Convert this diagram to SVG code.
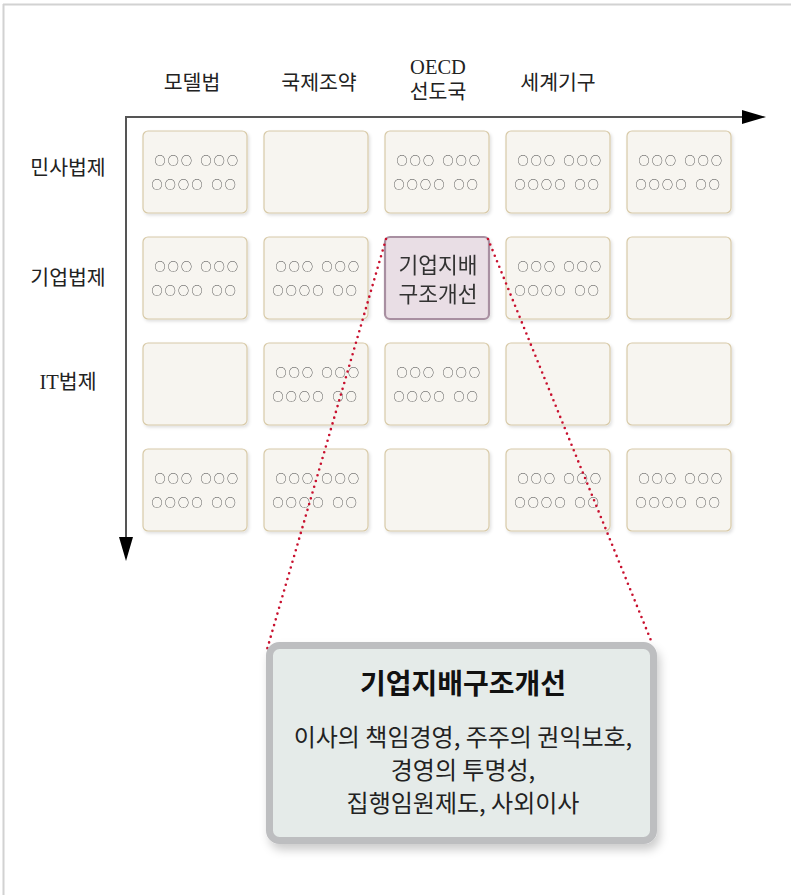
<svg xmlns="http://www.w3.org/2000/svg" width="791" height="895" viewBox="0 0 791 895">
<defs>
<style>
.lbl{font-family:"Liberation Serif","Noto Sans CJK KR",serif;font-size:20.5px;fill:#222;}
.box{fill:#f7f5f0;stroke:#d8caa8;stroke-width:1.2;}
.dots{font-family:"Noto Sans CJK KR",sans-serif;font-size:11px;letter-spacing:2.3px;fill:#444;}
.hl{fill:#e9dee5;stroke:#a88fa1;stroke-width:2.2;}
.hlt{font-family:"Noto Sans CJK KR",sans-serif;font-size:21.5px;fill:#333;text-anchor:middle;}
.dotline{stroke:#c8102e;stroke-width:2.6;stroke-linecap:round;stroke-dasharray:0 6;fill:none;}
.axis{stroke:#555;stroke-width:2;fill:none;}
.ct{font-family:"Noto Sans CJK KR",sans-serif;font-size:28px;font-weight:bold;fill:#111;text-anchor:middle;}
.cb{font-family:"Noto Sans CJK KR",sans-serif;font-size:24px;fill:#222;text-anchor:middle;}
</style>
<filter id="sh" x="-10%" y="-10%" width="130%" height="130%">
<feDropShadow dx="1.5" dy="2" stdDeviation="1.5" flood-color="#000" flood-opacity="0.12"/>
</filter>
<filter id="sh2" x="-10%" y="-10%" width="130%" height="130%">
<feDropShadow dx="3" dy="6" stdDeviation="5" flood-color="#000" flood-opacity="0.2"/>
</filter>
</defs>
<rect x="0" y="0" width="791" height="895" fill="#fff"/>
<g id="frame">
<line x1="3" y1="4.5" x2="791" y2="4.5" stroke="#d2d2d2" stroke-width="2"/>
<line x1="3.5" y1="4" x2="3.5" y2="895" stroke="#d2d2d2" stroke-width="2"/>
</g>
<g id="col-headers">
<text class="lbl" x="192" y="90" text-anchor="middle">모델법</text>
<text class="lbl" x="319" y="90" text-anchor="middle">국제조약</text>
<text class="lbl" x="438" y="74" text-anchor="middle">OECD</text>
<text class="lbl" x="438" y="99" text-anchor="middle">선도국</text>
<text class="lbl" x="558" y="90" text-anchor="middle">세계기구</text>
</g>
<g id="row-headers">
<text class="lbl" x="68" y="175" text-anchor="middle">민사법제</text>
<text class="lbl" x="68" y="285" text-anchor="middle">기업법제</text>
<text class="lbl" x="68" y="389" text-anchor="middle">IT법제</text>
</g>
<g id="axes">
<line class="axis" x1="125" y1="117" x2="745" y2="117"/>
<polygon points="742,110 766,117 742,124" fill="#000"/>
<line class="axis" x1="126" y1="116" x2="126" y2="540"/>
<polygon points="119,537 126,561 133,537" fill="#000"/>
</g>
<g id="grid" filter="url(#sh)">
<g id="r1c1"><rect class="box" x="143" y="131" width="104" height="82" rx="5"/><text class="dots" y="165"><tspan x="154.5">○○○</tspan><tspan x="200.5">○○○</tspan></text><text class="dots" y="189"><tspan x="151.5">○○○○</tspan><tspan x="211.5">○○</tspan></text></g>
<g id="r1c2"><rect class="box" x="264" y="131" width="104" height="82" rx="5"/></g>
<g id="r1c3"><rect class="box" x="385" y="131" width="104" height="82" rx="5"/><text class="dots" y="165"><tspan x="396.5">○○○</tspan><tspan x="442.5">○○○</tspan></text><text class="dots" y="189"><tspan x="393.5">○○○○</tspan><tspan x="453.5">○○</tspan></text></g>
<g id="r1c4"><rect class="box" x="506" y="131" width="104" height="82" rx="5"/><text class="dots" y="165"><tspan x="517.5">○○○</tspan><tspan x="563.5">○○○</tspan></text><text class="dots" y="189"><tspan x="514.5">○○○○</tspan><tspan x="574.5">○○</tspan></text></g>
<g id="r1c5"><rect class="box" x="627" y="131" width="104" height="82" rx="5"/><text class="dots" y="165"><tspan x="638.5">○○○</tspan><tspan x="684.5">○○○</tspan></text><text class="dots" y="189"><tspan x="635.5">○○○○</tspan><tspan x="695.5">○○</tspan></text></g>

<g id="r2c1"><rect class="box" x="143" y="237" width="104" height="82" rx="5"/><text class="dots" y="271"><tspan x="154.5">○○○</tspan><tspan x="200.5">○○○</tspan></text><text class="dots" y="295"><tspan x="151.5">○○○○</tspan><tspan x="211.5">○○</tspan></text></g>
<g id="r2c2"><rect class="box" x="264" y="237" width="104" height="82" rx="5"/><text class="dots" y="271"><tspan x="275.5">○○○</tspan><tspan x="321.5">○○○</tspan></text><text class="dots" y="295"><tspan x="272.5">○○○○</tspan><tspan x="332.5">○○</tspan></text></g>
<g id="r2c3"><rect class="hl" x="385" y="237" width="104" height="82" rx="5"/><text class="hlt" x="438" y="273">기업지배</text><text class="hlt" x="438" y="302">구조개선</text></g>
<g id="r2c4"><rect class="box" x="506" y="237" width="104" height="82" rx="5"/><text class="dots" y="271"><tspan x="517.5">○○○</tspan><tspan x="563.5">○○○</tspan></text><text class="dots" y="295"><tspan x="514.5">○○○○</tspan><tspan x="574.5">○○</tspan></text></g>
<g id="r2c5"><rect class="box" x="627" y="237" width="104" height="82" rx="5"/></g>

<g id="r3c1"><rect class="box" x="143" y="343" width="104" height="82" rx="5"/></g>
<g id="r3c2"><rect class="box" x="264" y="343" width="104" height="82" rx="5"/><text class="dots" y="377"><tspan x="275.5">○○○</tspan><tspan x="321.5">○○○</tspan></text><text class="dots" y="401"><tspan x="272.5">○○○○</tspan><tspan x="332.5">○○</tspan></text></g>
<g id="r3c3"><rect class="box" x="385" y="343" width="104" height="82" rx="5"/><text class="dots" y="377"><tspan x="396.5">○○○</tspan><tspan x="442.5">○○○</tspan></text><text class="dots" y="401"><tspan x="393.5">○○○○</tspan><tspan x="453.5">○○</tspan></text></g>
<g id="r3c4"><rect class="box" x="506" y="343" width="104" height="82" rx="5"/></g>
<g id="r3c5"><rect class="box" x="627" y="343" width="104" height="82" rx="5"/></g>

<g id="r4c1"><rect class="box" x="143" y="449" width="104" height="82" rx="5"/><text class="dots" y="483"><tspan x="154.5">○○○</tspan><tspan x="200.5">○○○</tspan></text><text class="dots" y="507"><tspan x="151.5">○○○○</tspan><tspan x="211.5">○○</tspan></text></g>
<g id="r4c2"><rect class="box" x="264" y="449" width="104" height="82" rx="5"/><text class="dots" y="483"><tspan x="275.5">○○○</tspan><tspan x="321.5">○○○</tspan></text><text class="dots" y="507"><tspan x="272.5">○○○○</tspan><tspan x="332.5">○○</tspan></text></g>
<g id="r4c3"><rect class="box" x="385" y="449" width="104" height="82" rx="5"/></g>
<g id="r4c4"><rect class="box" x="506" y="449" width="104" height="82" rx="5"/><text class="dots" y="483"><tspan x="517.5">○○○</tspan><tspan x="563.5">○○○</tspan></text><text class="dots" y="507"><tspan x="514.5">○○○○</tspan><tspan x="574.5">○○</tspan></text></g>
<g id="r4c5"><rect class="box" x="627" y="449" width="104" height="82" rx="5"/><text class="dots" y="483"><tspan x="638.5">○○○</tspan><tspan x="684.5">○○○</tspan></text><text class="dots" y="507"><tspan x="635.5">○○○○</tspan><tspan x="695.5">○○</tspan></text></g>
</g>
<g id="connectors">
<line class="dotline" x1="386" y1="239" x2="266" y2="653"/>
<line class="dotline" x1="488" y1="239" x2="652" y2="643"/>
</g>
<g id="callout">
<rect x="269.5" y="645.5" width="384" height="195" rx="10" fill="#e5ebe9" stroke="#bdbec0" stroke-width="7" filter="url(#sh2)"/>
<text class="ct" x="463" y="694">기업지배구조개선</text>
<text class="cb" x="463" y="746">이사의 책임경영, 주주의 권익보호,</text>
<text class="cb" x="463" y="779">경영의 투명성,</text>
<text class="cb" x="463" y="812">집행임원제도, 사외이사</text>
</g>
</svg>
